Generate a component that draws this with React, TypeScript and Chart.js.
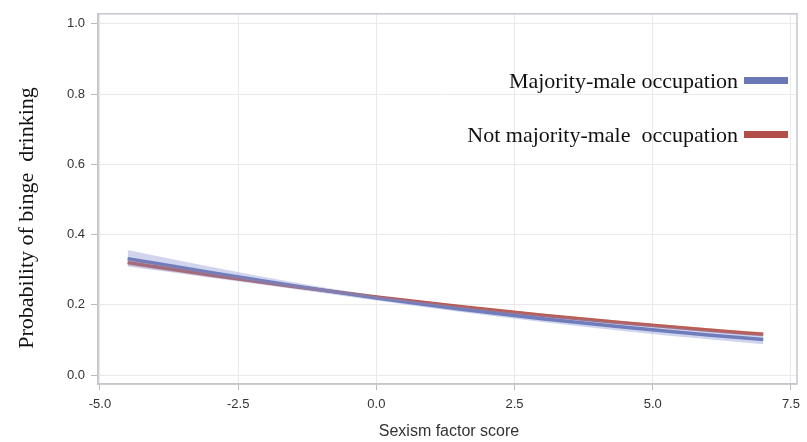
import React, { useEffect, useRef } from "react";
import { Chart, registerables } from "chart.js";

Chart.register(...registerables);

const xValues = [-4.5, -3, -1.5, 0, 1.5, 3, 4.5, 6, 7];
const maleProb = [0.331, 0.292, 0.254, 0.219, 0.188, 0.16, 0.136, 0.114, 0.101];
const maleUpper = [0.356, 0.308, 0.264, 0.226, 0.196, 0.17, 0.148, 0.127, 0.115];
const maleLower = [0.309, 0.277, 0.245, 0.212, 0.18, 0.151, 0.125, 0.102, 0.088];
const notMaleProb = [0.32, 0.285, 0.252, 0.222, 0.195, 0.17, 0.148, 0.128, 0.116];
const notMaleUpper = [0.328, 0.291, 0.256, 0.226, 0.199, 0.175, 0.153, 0.133, 0.122];
const notMaleLower = [0.312, 0.279, 0.248, 0.218, 0.191, 0.165, 0.143, 0.122, 0.11];
const xTicks = [-5, -2.5, 0, 2.5, 5, 7.5];
const yTicks = [0, 0.2, 0.4, 0.6, 0.8, 1.0];
const seriesLabels = ["Majority-male occupation", "Not majority-male  occupation"];
const yTitle = "Probability of binge  drinking";
const xTitle = "Sexism factor score";

const BLUE = "#6a79b6";
const RED = "#b24f48";

const pts = (ys: number[]) => xValues.map((x, i) => ({ x, y: ys[i] }));

export default function App() {
  const ref = useRef<HTMLCanvasElement>(null);
  useEffect(() => {
    const canvas = ref.current!;
    const deco = {
      id: "deco",
      afterDraw(chart: any) {
        const { ctx, chartArea: a } = chart;
        ctx.save();
        ctx.strokeStyle = "#c3c7cc";
        ctx.lineWidth = 1.5;
        ctx.strokeRect(a.left, a.top, a.right - a.left, a.bottom - a.top);
        // y title
        ctx.fillStyle = "#111";
        ctx.font = "22px 'Liberation Serif', serif";
        ctx.textAlign = "center";
        ctx.textBaseline = "middle";
        ctx.save();
        ctx.translate(27, 218);
        ctx.rotate(-Math.PI / 2);
        ctx.fillText(yTitle, 0, 0);
        ctx.restore();
        // x title
        ctx.font = "16px 'Liberation Sans', sans-serif";
        ctx.fillStyle = "#333";
        ctx.fillText(xTitle, 449, 432);
        // legend
        ctx.font = "22px 'Liberation Serif', serif";
        ctx.fillStyle = "#111";
        ctx.textAlign = "right";
        const rows = [
          { t: seriesLabels[0], c: BLUE, y: 82 },
          { t: seriesLabels[1], c: RED, y: 136 },
        ];
        rows.forEach((r) => {
          ctx.fillText(r.t, 738, r.y);
          ctx.fillStyle = r.c;
          ctx.fillRect(744, r.y - 5, 44, 7);
          ctx.fillStyle = "#111";
        });
        ctx.restore();
      },
    };
    const tickFont = { family: "'Liberation Sans', sans-serif", size: 13 };
    const chart = new Chart(canvas, {
      type: "line",
      data: {
        datasets: [
          { data: pts(maleUpper), borderWidth: 0, pointRadius: 0, fill: "+1", backgroundColor: "rgba(120,136,204,0.35)", cubicInterpolationMode: "monotone" } as any,
          { data: pts(maleLower), borderWidth: 0, pointRadius: 0, fill: false, cubicInterpolationMode: "monotone" },
          { data: pts(notMaleUpper), borderWidth: 0, pointRadius: 0, fill: "+1", backgroundColor: "rgba(205,120,110,0.35)", cubicInterpolationMode: "monotone" },
          { data: pts(notMaleLower), borderWidth: 0, pointRadius: 0, fill: false, cubicInterpolationMode: "monotone" },
          { label: seriesLabels[0], data: pts(maleProb), borderColor: BLUE, borderWidth: 3.5, pointRadius: 0, fill: false, cubicInterpolationMode: "monotone" },
          { label: seriesLabels[1], data: pts(notMaleProb), borderColor: RED, borderWidth: 3.5, pointRadius: 0, fill: false, cubicInterpolationMode: "monotone" },
        ],
      },
      options: {
        responsive: false,
        animation: false,
        layout: { padding: { left: 0, top: 12, right: 6, bottom: 0 } },
        plugins: { legend: { display: false }, tooltip: { enabled: false } },
        scales: {
          x: {
            type: "linear",
            min: -5.036,
            max: 7.61,
            afterBuildTicks: (s: any) => { s.ticks = xTicks.map((v) => ({ value: v })); },
            afterFit: (s: any) => { s.height = 58; },
            ticks: { font: tickFont, color: "#333", padding: 7, maxRotation: 0, callback: (v: any) => Number(v).toFixed(1) },
            grid: { color: "#e9e9e9", tickColor: "#b8bcc2", tickLength: 6 },
            border: { color: "#c3c7cc", width: 1.5 },
          },
          y: {
            min: -0.0255,
            max: 1.0283,
            afterBuildTicks: (s: any) => { s.ticks = yTicks.map((v) => ({ value: v })); },
            afterFit: (s: any) => { s.width = 98; },
            ticks: { font: tickFont, color: "#333", padding: 6, callback: (v: any) => Number(v).toFixed(1) },
            grid: { color: "#e9e9e9", tickColor: "#b8bcc2", tickLength: 7 },
            border: { color: "#c3c7cc", width: 1.5 },
          },
        },
      },
      plugins: [deco],
    } as any);
    return () => chart.destroy();
  }, []);
  return (
    <div style={{ position: "fixed", left: 0, top: 0, width: 807, height: 442, background: "#fff" }}>
      <canvas ref={ref} width={807} height={442} style={{ display: "block" }} />
    </div>
  );
}
